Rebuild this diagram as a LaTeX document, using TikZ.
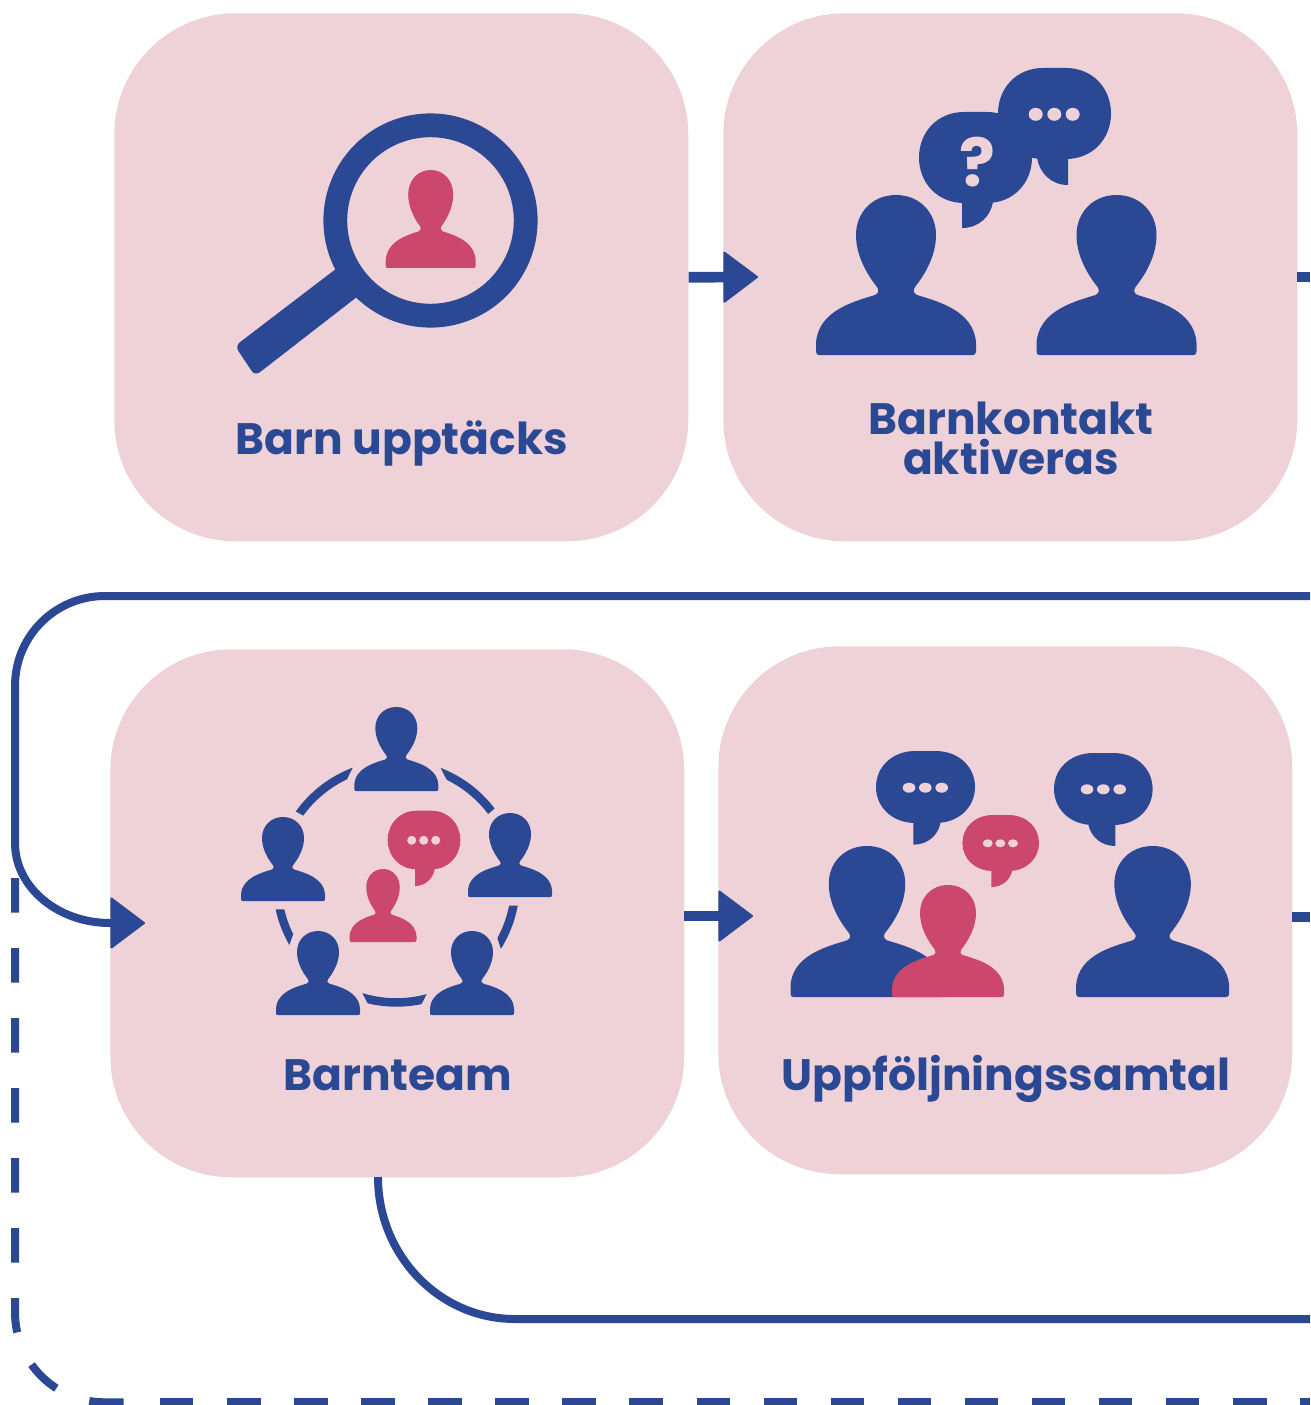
\documentclass[tikz,border=0pt]{standalone}
\usepackage{fontspec}
\setmainfont{Poppins}
\usetikzlibrary{arrows.meta}
\definecolor{blu}{HTML}{2B4894}
\definecolor{rosa}{HTML}{CB486C}
\definecolor{bg}{HTML}{EFD2D7}
\tikzset{
  box/.style={fill=bg,rounded corners=91pt,minimum width=430.5pt,minimum height=396pt,inner sep=0pt,anchor=north west},
  lbl/.style={text=blu,font=\fontsize{33}{33}\selectfont\bfseries,inner sep=0pt,anchor=base},
  flow/.style={draw=blu,line width=6pt},
  flowa/.style={flow,-{Triangle[length=26.5pt,width=39.5pt,round,line width=1.5pt]}},
  dashA/.style={draw=blu,line width=6pt,dash pattern=on 25.9pt off 26.6pt},
  dashB/.style={draw=blu,line width=6pt,dash pattern=on 25.1pt off 25.2pt},
}
\newcommand{\personfig}[5]{%
  \fill[#5,shift={(#1,#2)},xscale=#3/160,yscale=#4/160]
    (0,0) .. controls (24,0) and (40,18) .. (40,40)
    .. controls (40,60) and (30,78) .. (19,92)
    .. controls (17,95) and (17,98) .. (21,100)
    .. controls (40,106) and (78,115) .. (80,148)
    -- (80,156) .. controls (80,159) and (79,160) .. (77,160)
    -- (-77,160) .. controls (-79,160) and (-80,159) .. (-80,156)
    -- (-80,148)
    .. controls (-78,115) and (-40,106) .. (-21,100)
    .. controls (-17,98) and (-17,95) .. (-19,92)
    .. controls (-30,78) and (-40,60) .. (-40,40)
    .. controls (-40,18) and (-24,0) .. (0,0) -- cycle;}
% centre x, centre y, rx, ry, colour
\newcommand{\bubblefig}[5]{%
  \fill[#5,shift={(#1,#2)},xscale=#3,yscale=#4]
    (-.2,-1) -- (.2,-1) .. controls (.68,-1) and (1,-.55) .. (1,0)
    .. controls (1,.55) and (.68,1) .. (.2,1)
    -- (-.2,1) .. controls (-.68,1) and (-1,.55) .. (-1,0)
    .. controls (-1,-.55) and (-.68,-1) .. (-.2,-1) -- cycle;}
% edge x, y, tip y, other x, colour
\newcommand{\tailfig}[5]{%
  \fill[#5] (#1,#2-4) -- (#1,#3) .. controls ({#1+(#4-#1)*0.55},#3) and ({#1+(#4-#1)*0.92},{#3-(#3-#2)*0.45}) .. (#4,#2) -- (#4,#2-4) -- cycle;}
% x1 x2 x3 y rx ry
\newcommand{\dotsfig}[6]{%
  \fill[bg] (#1,#4) ellipse[x radius=#5,y radius=#6];
  \fill[bg] (#2,#4) ellipse[x radius=#5,y radius=#6];
  \fill[bg] (#3,#4) ellipse[x radius=#5,y radius=#6];}
\newcommand{\ringseg}[4]{%
  \fill[blu,shift={(396.3,883.2)}] (#1:123.5) arc[start angle=#1,end angle=#2,radius=123.5]
    -- (#3:115) arc[start angle=#3,end angle=#4,radius=115] -- cycle;}
\begin{document}
\begin{tikzpicture}[x=.75pt,y=-.75pt]
\useasboundingbox (0,0) rectangle (1310,1405);
\coordinate (edgeTop) at (1310,596);
\coordinate (edgeMid) at (1310,1319);
\coordinate (edgeDash) at (1310,1402.3);
\coordinate (dashStart) at (15,878);
\coordinate (dashMid) at (127,1402.3);
\coordinate (dashNext) at (160,1402.3);
\coordinate (loopTip) at (145,923);
\node[box] (b1) at (114,13) {};
\node[box] (b2) at (723,13) {};
\node[box] (b3) at (110,649) {};
\node[box] (b4) at (718,646) {};
\coordinate (a3) at (684,916);
\coordinate (a4) at (753,916);
\coordinate (s2) at (1297,277);
\coordinate (e2) at (1310,277);
\coordinate (s4) at (1292,917);
\coordinate (e4) at (1310,917);
\coordinate (t2) at (758,277);
\coordinate (m3) at (378,1177);
\draw[dashA] (dashStart) -- (15,1312) .. controls (15,1362.7) and (55.3,1402.3) .. (105,1402.3) -- (dashMid);
\draw[dashB] (dashNext) -- (edgeDash);
\draw[flowa] (edgeTop) -- (105,596) .. controls (55.3,596) and (15,636) .. (15,686) -- (15,843) .. controls (15,887) and (57.5,923) .. (110,923) -- (loopTip);
\draw[flow] (m3) .. controls (378,1255) and (439,1319) .. (515,1319) -- (edgeMid);
\draw[flowa,line width=8pt] (b1.east) -- (t2);
\draw[flowa,line width=8pt] (a3) -- (a4);
\draw[flow,line width=8pt] (s2) -- (e2);
\draw[flow,line width=8pt] (s4) -- (e4);
% magnifier
\draw[blu,line width=17.85pt] (430.5,220.5) circle[radius=95.2];
\fill[blu,rounded corners=4.5pt] (345,262) -- (362,293) -- (255,376) -- (235,346) -- cycle;
\personfig{430.7}{170}{90}{98}{rosa}
% two people, two bubbles
\personfig{896}{195}{160}{160}{blu}
\personfig{1116.5}{195}{160}{160}{blu}
\bubblefig{975.5}{157.5}{56.5}{45.5}{blu}
\tailfig{962}{202}{228}{993}{blu}
\bubblefig{1054.5}{113.5}{56.5}{45.5}{blu}
\tailfig{1068}{158}{185}{1037}{blu}
\dotsfig{1035.7}{1054.3}{1072.7}{114.3}{7}{6.5}
\node[text=bg,font=\fontsize{50}{50}\selectfont\bfseries,inner sep=0pt] (qm) at (977,162) {?};
% team
\ringseg{-110.7}{-144.5}{-144}{-115.4}
\ringseg{-69}{-37.2}{-37}{-64}
\ringseg{10.4}{32.1}{28.5}{11.2}
\ringseg{78.2}{103.4}{107.2}{74.7}
\ringseg{167.8}{150}{153.7}{166.9}
\personfig{396.3}{707}{84}{84}{blu}
\personfig{283}{817}{84}{84}{blu}
\personfig{510}{813}{84}{84}{blu}
\personfig{318}{931}{84}{84}{blu}
\personfig{472}{931}{84}{84}{blu}
\personfig{383}{869}{67}{73}{rosa}
\bubblefig{424}{840}{36.3}{29.3}{rosa}
\tailfig{415}{868}{886}{435}{rosa}
\dotsfig{411.7}{423.7}{435.7}{840.3}{4.5}{4.5}
% follow-up
\personfig{867}{846}{153}{151}{blu}
\personfig{948}{885}{112}{112}{rosa}
\personfig{1152.6}{846}{153}{151}{blu}
\bubblefig{925.5}{787}{49.5}{36}{blu}
\tailfig{913.3}{822}{844.7}{940.7}{blu}
\dotsfig{909}{925.3}{941.7}{787.7}{6.3}{5}
\bubblefig{1103.3}{789}{49.3}{36}{blu}
\tailfig{1115.3}{824}{846}{1088.3}{blu}
\dotsfig{1087}{1103.3}{1119.7}{789.3}{6.3}{5}
\bubblefig{1000.7}{843}{38.3}{28}{rosa}
\tailfig{991.3}{870}{887}{1012.3}{rosa}
\dotsfig{987.7}{1000.3}{1013}{843.3}{5}{4}
% labels
\node[lbl] (l1) at (402,454) {Barn upptäcks};
\node[lbl] (l2a) at (1011,434) {Barnkontakt};
\node[lbl] (l2b) at (1011,474) {aktiveras};
\node[lbl] (l3) at (398,1090) {Barnteam};
\node[lbl] (l4) at (1006,1090) {Uppföljningssamtal};
\end{tikzpicture}
\end{document}
